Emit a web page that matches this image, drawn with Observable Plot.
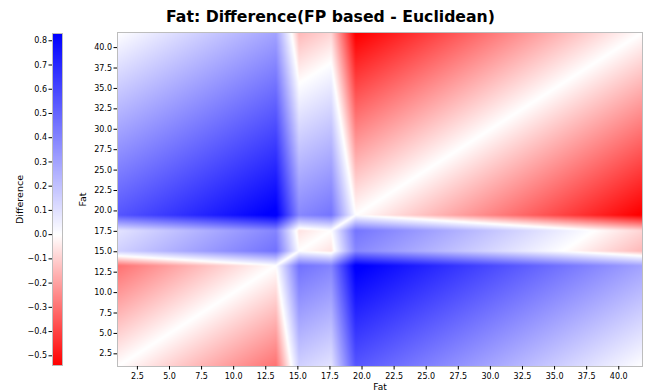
<!DOCTYPE html>
<html><head><meta charset="utf-8">
<script src="https://cdn.jsdelivr.net/npm/d3@7"></script>
<script src="https://cdn.jsdelivr.net/npm/@observablehq/plot@0.6"></script>
<style>
body{margin:0;background:#fff;}
#wrap{position:relative;width:651px;height:392px;overflow:hidden;font-family:"DejaVu Sans",sans-serif;background:#fff;}
#title{position:absolute;left:0;width:651px;top:7px;text-align:center;font-weight:bold;font-size:15.7px;color:#000;padding-left:10px;box-sizing:border-box;}
#main,#cbar{position:absolute;top:0;left:0;}
</style></head><body>
<div id="wrap"><div id="main"></div><div id="cbar"></div><div id="title">Fat: Difference(FP based - Euclidean)</div></div>
<script>
// Fat values at which the picture's structure changes (plot extent and partition edges)
const fatKnots = [0.95, 13.3, 15.1, 17.6, 19.5, 41.85];
// Difference read at each (x knot, y knot) pair; rows follow y knots, columns x knots
const diffRows = [
  [ 0.00, -0.30,  0.15,  0.09,  0.55,  0.00],
  [-0.30,  0.00,  0.46,  0.40,  0.85,  0.30],
  [ 0.15,  0.46,  0.00, -0.06,  0.39, -0.15],
  [ 0.09,  0.40, -0.06,  0.00,  0.45, -0.09],
  [ 0.55,  0.85,  0.39,  0.45,  0.00, -0.55],
  [ 0.00,  0.30, -0.15, -0.09, -0.55,  0.00]
];
const fatTicks = [2.5, 5, 7.5, 10, 12.5, 15, 17.5, 20, 22.5, 25, 27.5, 30, 32.5, 35, 37.5, 40];
const diffTicks = [-0.5, -0.4, -0.3, -0.2, -0.1, 0, 0.1, 0.2, 0.3, 0.4, 0.5, 0.6, 0.7, 0.8];
const colorDomain = [-0.54, 0, 0.83];
const colorRange = ["#ff0000", "#ffffff", "#0000ff"];

const points = [];
fatKnots.forEach((fy, j) => fatKnots.forEach((fx, i) => points.push({x: fx, y: fy, v: diffRows[j][i]})));

// piecewise-linear interpolation over the knot grid (each cell split into two triangles,
// along the diagonal whose corners are closest to zero, i.e. the x = y line in diagonal cells)
function knotGridInterpolate(index, width, height, X, Y, V) {
  const idx = Array.from(index);
  const xs = Array.from(new Set(idx.map(i => X[i]))).sort((a, b) => a - b);
  const ys = Array.from(new Set(idx.map(i => Y[i]))).sort((a, b) => a - b);
  const grid = new Map();
  for (const i of idx) grid.set(X[i] + "," + Y[i], V[i]);
  const val = (a, b) => grid.get(xs[a] + "," + ys[b]);
  const out = new Float64Array(width * height);
  for (let r = 0; r < height; r++) {
    const py = r + 0.5;
    let b = 0; while (b < ys.length - 2 && py > ys[b + 1]) b++;
    const v = Math.max(0, Math.min(1, (py - ys[b]) / (ys[b + 1] - ys[b])));
    for (let c = 0; c < width; c++) {
      const px = c + 0.5;
      let a = 0; while (a < xs.length - 2 && px > xs[a + 1]) a++;
      const u = Math.max(0, Math.min(1, (px - xs[a]) / (xs[a + 1] - xs[a])));
      const p00 = val(a, b), p10 = val(a + 1, b), p01 = val(a, b + 1), p11 = val(a + 1, b + 1);
      let f;
      if (Math.abs(p00) + Math.abs(p11) <= Math.abs(p10) + Math.abs(p01)) {
        f = u >= v ? p00 + u * (p10 - p00) + v * (p11 - p10) : p00 + v * (p01 - p00) + u * (p11 - p01);
      } else {
        f = u + v <= 1 ? p00 + u * (p10 - p00) + v * (p01 - p00) : p11 + (1 - u) * (p01 - p11) + (1 - v) * (p10 - p11);
      }
      out[r * width + c] = f;
    }
  }
  return out;
}

const fmt = d3.format(".1f");
const fatExtent = [fatKnots[0], fatKnots[fatKnots.length - 1]];
const color = {type: "linear", domain: colorDomain, range: colorRange, interpolate: "rgb", clamp: true};
const axisStyle = {fontFamily: "DejaVu Sans, sans-serif", fontSize: "8px", background: "transparent", color: "#000"};

const main = Plot.plot({
  width: 651, height: 392,
  marginLeft: 117, marginRight: 9, marginTop: 32, marginBottom: 26,
  style: axisStyle,
  x: {domain: fatExtent},
  y: {domain: fatExtent},
  color,
  marks: [
    Plot.raster(points, {x: "x", y: "y", fill: "v", interpolate: knotGridInterpolate,
      x1: fatExtent[0], x2: fatExtent[1], y1: fatExtent[0], y2: fatExtent[1]}),
    Plot.frame({stroke: "#bdbdbd"}),
    Plot.axisX({ticks: fatTicks, tickFormat: fmt, tickSize: 3.5, tickPadding: 3, fontSize: 8, label: null}),
    Plot.axisX({ticks: [], tickSize: 0, label: "Fat", labelAnchor: "center", labelArrow: "none", labelOffset: 23, fontSize: 9}),
    Plot.axisY({ticks: fatTicks, tickFormat: fmt, tickSize: 3.5, tickPadding: 2, fontSize: 8, label: null}),
    Plot.axisY({ticks: [], tickSize: 0, label: "Fat", labelAnchor: "center", labelArrow: "none", labelOffset: 38, fontSize: 9.5})
  ]
});
document.getElementById("main").appendChild(main);

const cbar = Plot.plot({
  width: 75, height: 392,
  marginLeft: 52, marginRight: 13, marginTop: 33, marginBottom: 27,
  style: axisStyle,
  x: {domain: [0, 1], axis: null},
  y: {domain: [colorDomain[0], colorDomain[2]]},
  color,
  marks: [
    Plot.raster({fill: (x, y) => y, x1: 0, x2: 1, y1: colorDomain[0], y2: colorDomain[2]}),
    Plot.frame({stroke: "#bdbdbd"}),
    Plot.axisY({ticks: diffTicks, tickFormat: fmt, tickSize: 3.5, tickPadding: 2, fontSize: 8, label: null}),
    Plot.axisY({ticks: [], tickSize: 0, label: "Difference", labelAnchor: "center", labelArrow: "none", labelOffset: 36, fontSize: 9.5})
  ]
});
document.getElementById("cbar").appendChild(cbar);
</script>
</body></html>
